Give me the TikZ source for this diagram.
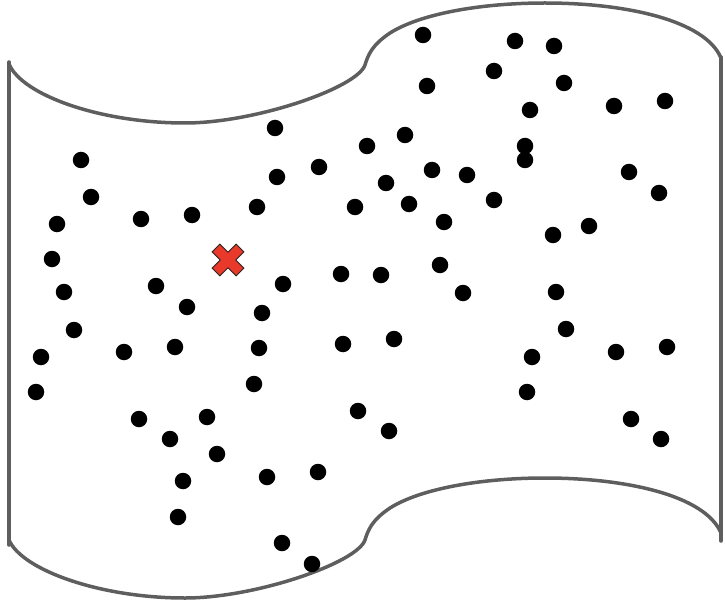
\documentclass[tikz,border=0pt]{standalone}
\usetikzlibrary{calc}
\definecolor{outlinegray}{HTML}{5E5E5E}
\definecolor{crossred}{HTML}{E8392A}
\tikzset{
  outline/.style={draw=outlinegray, line width=3.5pt, line cap=round, line join=round},
  dot/.style={circle, fill=black, inner sep=0pt, minimum size=16.5pt},
  crossmark/.style={fill=crossred, draw=black!85, line width=0.9pt, line join=miter}
}
\begin{document}
\begin{tikzpicture}[x=1pt,y=-1pt]
\useasboundingbox (0,0) rectangle (725,604);
% outline of the sheet
\draw[outline] (9,62) -- (9,545);
\draw[outline] (721,57) -- (721,541);
\draw[outline] (9,64) .. controls (22,95) and (100,123) .. (185,123)
  .. controls (255,123) and (357,88) .. (365,65)
  .. controls (368,55) and (372,45) .. (390,33)
  .. controls (420,14) and (480,3) .. (545,3)
  .. controls (625,3) and (705,20) .. (721,58);
\draw[outline] (9,540) .. controls (22,570) and (100,598) .. (185,598)
  .. controls (255,598) and (357,563) .. (365,540)
  .. controls (368,530) and (372,520) .. (390,508)
  .. controls (420,489) and (480,478) .. (545,478)
  .. controls (625,478) and (705,495) .. (721,533);
% dots
\foreach \px/\py [count=\i] in {
423/35, 515/41, 554/46, 494/71, 427/86, 564/83, 530/110, 614/106, 665/101,
275/128, 405/135, 367/146, 525/146, 525/160, 81/160, 319/167, 277/177,
432/170, 467/175, 386/183, 629/172, 91/197, 659/193, 494/200, 409/204,
355/207, 257/207, 192/215, 141/219, 57/224, 444/222, 589/226, 553/235,
52/259, 440/265, 341/274, 381/275, 283/284, 156/286, 64/292, 463/293,
556/292, 187/307, 262/313, 74/330, 566/329, 394/339, 343/344, 175/347,
259/348, 124/352, 41/357, 532/357, 616/352, 667/347, 254/384, 36/392,
527/392, 358/411, 207/417, 139/419, 389/431, 631/419, 661/439, 170/439,
217/454, 318/472, 267/477, 183/481, 178/517, 282/543, 312/564}
  \node[dot] (d\i) at (\px,\py) {};
% red cross
\coordinate (crosscenter) at (228,260);
\begin{scope}[shift={(crosscenter)}, rotate=45]
\draw[crossmark] (5.5,5.5) -- (17,5.5) -- (17,-5.5) -- (5.5,-5.5) -- (5.5,-17)
  -- (-5.5,-17) -- (-5.5,-5.5) -- (-17,-5.5) -- (-17,5.5) -- (-5.5,5.5)
  -- (-5.5,17) -- (5.5,17) -- cycle;
\end{scope}
\end{tikzpicture}
\end{document}
